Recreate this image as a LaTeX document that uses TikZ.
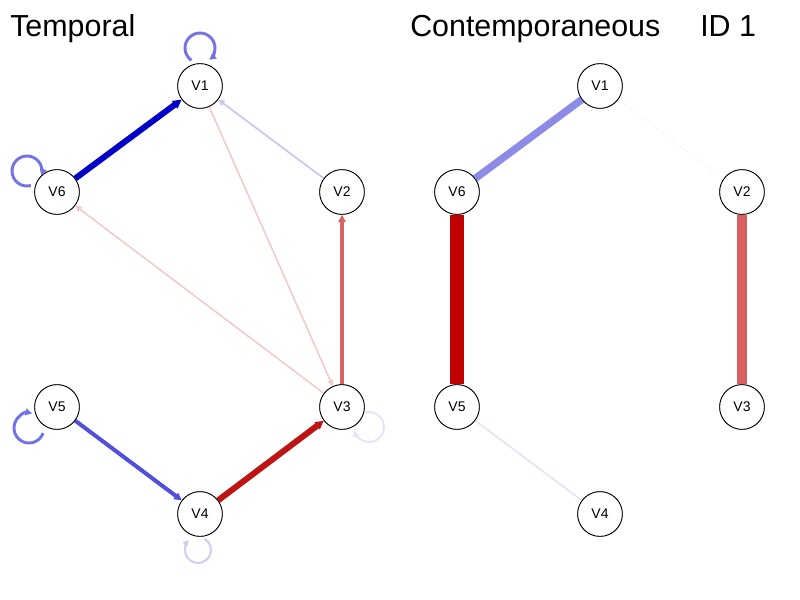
\documentclass[tikz,border=0pt]{standalone}
\usepackage{fontspec}
\setmainfont{Liberation Sans}
\usetikzlibrary{arrows.meta}
\definecolor{dblue}{RGB}{0,0,200}
\definecolor{mblue}{RGB}{80,80,220}
\definecolor{lblue}{RGB}{200,200,240}
\definecolor{loopblue}{RGB}{115,115,230}
\definecolor{flblue}{RGB}{228,228,248}
\definecolor{fl4blue}{RGB}{208,208,242}
\definecolor{lpink}{RGB}{240,200,200}
\definecolor{mred}{RGB}{215,100,100}
\definecolor{dred}{RGB}{190,20,20}
\definecolor{cblue}{RGB}{140,140,232}
\definecolor{cred}{RGB}{192,0,0}
\definecolor{faint}{RGB}{228,228,244}
\definecolor{vfaint}{RGB}{236,236,246}
\definecolor{idred}{RGB}{215,95,95}
\begin{document}
\begin{tikzpicture}[x=0.75pt,y=-0.75pt,
  vnode/.style={circle,draw=black,fill=white,line width=0.6pt,minimum size=33.5pt,inner sep=0pt,font=\fontsize{10.5}{12}\selectfont},
  title/.style={anchor=base west,inner sep=0pt,font=\fontsize{22.8}{26}\selectfont},
  arr/.style={-{Stealth[length=#1*1.2pt+4pt,width=#1*1.2pt+4pt,inset=0pt]}},
  arr/.default=1]
\useasboundingbox (0,0) rectangle (800,600);
\fill[white] (0,0) rectangle (800,600);
\node[title] (tt) at (10,36) {Temporal};
\node[title] (tc) at (410,36) {Contemporaneous};
\node[title] (ti) at (700,36) {ID 1};
% temporal
\node[vnode] (a1) at (200,86) {V1};
\node[vnode] (a6) at (57,192) {V6};
\node[vnode] (a2) at (342,192) {V2};
\node[vnode] (a5) at (57,407) {V5};
\node[vnode] (a3) at (342,407) {V3};
\node[vnode] (a4) at (200,514) {V4};
% contemporaneous / ID
\node[vnode] (c1) at (600,86) {V1};
\node[vnode] (c6) at (457,192) {V6};
\node[vnode] (c5) at (457,407) {V5};
\node[vnode] (c4) at (600,514) {V4};
\node[vnode] (i2) at (742,192) {V2};
\node[vnode] (i3) at (742,407) {V3};
% temporal edges
\draw[dblue,line width=4.5pt,arr=2.2] (a6) -- (a1);
\draw[lblue,line width=1.3pt,arr=0.6] (a2) -- (a1);
\draw[lpink,line width=1.1pt,arr=0.5] (a1) -- (a3);
\draw[lpink,line width=1.1pt,arr=0.5] (a3) -- (a6);
\draw[mred,line width=3pt,arr=1.2] (a3) -- (a2);
\draw[mblue,line width=3pt,arr=1.4] (a5) -- (a4);
\draw[dred,line width=4.5pt,arr=2] (a4) -- (a3);
% loops (image angles: y axis points down)
\draw[loopblue,line width=2.2pt,arr=0.9] (200,48) ++(125:15) arc[start angle=125,end angle=412,radius=15];
\draw[loopblue,line width=2.2pt,arr=0.9] (27,171) ++(75:15) arc[start angle=75,end angle=378,radius=15];
\draw[loopblue,line width=2.2pt,arr=0.9] (29,428) ++(20:15) arc[start angle=20,end angle=282,radius=15];
\draw[flblue,line width=1.4pt,arr=0.6] (369,427) ++(235:15) arc[start angle=235,end angle=526,radius=15];
\draw[fl4blue,line width=1.6pt,arr=0.6] (198,550) ++(300:13) arc[start angle=300,end angle=588,radius=13];
% contemporaneous edges
\draw[cblue,line width=5.5pt] (c6) -- (c1);
\draw[cred,line width=11pt] (c6) -- (c5);
\draw[faint,line width=1.3pt] (c5) -- (c4);
\draw[vfaint,line width=0.8pt,dotted] (c1) -- (i2);
\draw[idred,line width=7pt] (i2) -- (i3);
% redraw nodes on top
\foreach \n/\t in {a1/V1,a6/V6,a2/V2,a5/V5,a3/V3,a4/V4,c1/V1,c6/V6,c5/V5,c4/V4,i2/V2,i3/V3}
  \node[vnode] at (\n) {\t};
\end{tikzpicture}
\end{document}
